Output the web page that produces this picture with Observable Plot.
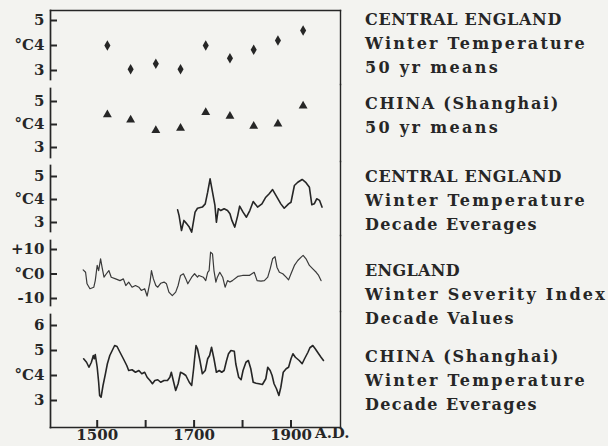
<!DOCTYPE html>
<html><head><meta charset="utf-8">
<script src="https://cdn.jsdelivr.net/npm/d3@7"></script>
<script src="https://cdn.jsdelivr.net/npm/@observablehq/plot@0.6"></script>
<style>
body{margin:0;background:#f3f3f0;}
#wrap{position:relative;width:608px;height:446px;background:#f3f3f0;overflow:hidden;color:#262626;
 font-family:"DejaVu Serif",serif;font-weight:bold;}
.p{position:absolute;left:0;}
.lab{position:absolute;left:365px;font-size:16px;line-height:24px;white-space:nowrap;}
.lab span{display:inline-block;}
</style></head><body><div id="wrap"></div>
<script>
// 50-year means (period centres)
const periodYears = [1521, 1569, 1621, 1672, 1724, 1774, 1823, 1873, 1925];
const ceMeans50 = [4.0, 3.05, 3.27, 3.05, 4.0, 3.49, 3.83, 4.2, 4.6];
const chinaMeans50 = [4.43, 4.2, 3.74, 3.84, 4.53, 4.36, 3.93, 4.03, 4.81];

// Central England winter temperature, decade averages
const ceDecYears = [1666,1669,1674,1679,1685,1690,1695,1702,1707,1717,1723,1728,1733,1738,1743,1746,1750,1755,1762,1769,1774,1778,1784,1790,1794,1801,1808,1815,1822,1831,1840,1848,1855,1862,1871,1879,1886,1895,1900,1907,1914,1923,1931,1938,1943,1948,1953,1959,1964];
const ceDecTemp = [3.55,3.30,2.65,3.09,2.94,2.80,2.58,3.45,3.62,3.67,3.81,4.32,4.90,4.32,3.74,3.01,3.60,3.52,3.60,3.52,3.38,3.09,2.80,3.30,3.71,3.45,3.23,3.52,3.91,3.67,3.81,4.10,4.25,4.43,4.10,3.81,3.62,3.81,3.88,4.61,4.75,4.87,4.73,4.53,3.77,3.81,4.03,3.96,3.67];

// England winter severity index, decade values
const engYears = [1471,1476,1479,1485,1493,1496,1500,1503,1507,1510,1514,1519,1524,1529,1538,1547,1554,1559,1565,1572,1579,1586,1591,1598,1603,1609,1612,1616,1621,1625,1631,1638,1643,1648,1655,1662,1667,1672,1678,1683,1687,1695,1701,1707,1710,1719,1724,1728,1731,1734,1738,1741,1745,1748,1753,1759,1764,1769,1774,1779,1790,1800,1814,1824,1830,1838,1845,1852,1857,1862,1867,1871,1876,1883,1890,1895,1900,1907,1914,1921,1925,1931,1938,1945,1952,1957,1962];
const engIndex = [1.7,0.7,-4.0,-6.0,-5.4,-2.7,3.5,1.4,6.2,2.8,-1.3,0.1,1.4,-1.3,-2.0,-2.7,-2.0,-4.7,-3.3,-5.4,-4.7,-5.4,-6.7,-6.0,-9.0,-3.3,1.4,-2.0,-4.7,-5.4,-3.8,-3.3,-4.0,-7.4,-8.8,-7.4,-4.7,-0.6,0.1,-2.0,-4.0,-1.3,0.1,-1.3,-0.6,-1.3,-2.7,0.7,1.4,8.9,8.2,1.4,-3.3,-1.3,0.7,-1.3,-5.4,-2.7,-3.3,-2.7,-1.0,-0.6,-0.6,0.7,-2.7,-2.9,-2.7,-1.3,2.1,6.2,7.1,2.8,0.7,0.1,-1.3,-2.4,0.1,3.5,5.5,6.9,7.6,6.2,3.5,2.1,0.7,-0.6,-2.7];

// China (Shanghai) winter temperature, decade averages
const chYears = [1472,1478,1483,1488,1492,1494,1496,1500,1503,1505,1508,1512,1517,1521,1526,1531,1536,1541,1547,1554,1561,1565,1572,1579,1586,1592,1598,1603,1609,1614,1619,1625,1631,1638,1645,1650,1653,1657,1662,1667,1672,1678,1683,1690,1695,1699,1701,1704,1707,1712,1717,1723,1728,1732,1736,1741,1746,1752,1757,1762,1767,1771,1776,1783,1786,1792,1797,1801,1807,1812,1817,1822,1828,1834,1841,1848,1852,1857,1861,1865,1870,1875,1879,1884,1890,1895,1900,1904,1909,1917,1923,1928,1935,1939,1945,1950,1957,1962,1967];
const chTemp = [4.67,4.53,4.33,4.53,4.80,4.67,4.84,4.33,3.73,3.20,3.13,3.60,4.07,4.47,4.80,5.00,5.20,5.16,4.93,4.67,4.40,4.20,4.23,4.13,4.20,4.07,4.13,3.93,3.80,3.67,3.80,3.83,3.73,3.80,3.80,3.93,4.13,3.80,3.40,3.67,4.13,4.07,4.00,3.73,3.60,4.27,4.67,5.20,5.07,4.60,4.07,4.20,4.67,4.80,5.13,4.67,4.13,4.20,4.13,4.20,4.60,4.87,5.00,4.97,4.47,3.93,3.83,4.20,4.53,4.60,4.27,3.73,3.69,3.67,3.64,3.87,4.33,4.20,4.00,3.67,3.47,3.20,3.53,4.13,4.27,4.33,4.67,4.87,4.73,4.60,4.47,4.67,4.93,5.11,5.20,5.07,4.87,4.73,4.60];

const xTicks = [1500, 1600, 1700, 1800, 1900];
const xLabels = [1500, 1700, 1900];
const panelLabels = [
  ["CENTRAL ENGLAND", "Winter Temperature", "50 yr means"],
  ["CHINA (Shanghai)", "50 yr means"],
  ["CENTRAL ENGLAND", "Winter Temperature", "Decade Everages"],
  ["ENGLAND", "Winter Severity Index", "Decade Values"],
  ["CHINA (Shanghai)", "Winter Temperature", "Decade Everages"]
];

const ink = "#262626";
const font = {fontFamily: "DejaVu Serif, serif", fontSize: "15px", fontWeight: "bold", color: ink, background: "transparent", overflow: "visible"};
const zip = (xs, ys) => xs.map((x, i) => ({x, y: ys[i]}));
const degFmt = mid => d => d === mid ? "°C" + d : String(d);
const W = 342, ML = 50, MR = 2, TICK = 7;

function panel({top, height, marginTop = 0, marginBottom = 0, yDomain, yRange, yTicks, fmt, gapTop, gapBottom, marks, extra = []}) {
  const svg = Plot.plot({
    width: W, height, marginLeft: ML, marginRight: MR, marginTop, marginBottom,
    style: font,
    x: {domain: [1500, 1900], range: [96.7, 290.5]},
    y: {domain: yDomain, range: yRange},
    marks: [
      Plot.frame({anchor: "left", insetTop: gapTop, insetBottom: gapBottom, stroke: ink, strokeWidth: 1.7}),
      Plot.frame({anchor: "right", stroke: ink, strokeWidth: 1.4}),
      // short inward tick marks at the left edge
      Plot.tickY(yTicks, {y: d => d, insetRight: W - ML - MR - TICK, stroke: ink, strokeWidth: 2}),
      // tick labels
      Plot.axisY({ticks: yTicks, tickSize: 0, tickPadding: 6, tickFormat: fmt, fill: ink, label: null}),
      Plot.axisX({ticks: [], label: null}),
      ...extra,
      ...marks
    ]
  });
  svg.classList.add("p");
  svg.style.top = top + "px";
  document.getElementById("wrap").appendChild(svg);
}

panel({top: 0, height: 84, marginTop: 10, yDomain: [3, 5], yRange: [70, 20], yTicks: [3, 4, 5], fmt: degFmt(4), gapTop: 0, gapBottom: 5,
  extra: [Plot.frame({anchor: "top", stroke: ink, strokeWidth: 1.4})],
  marks: [Plot.dot(zip(periodYears, ceMeans50), {x: "x", y: "y", symbol: "diamond", r: 3.2, fill: ink})]});

panel({top: 84, height: 77, yDomain: [3, 5], yRange: [63, 17], yTicks: [3, 4, 5], fmt: degFmt(4), gapTop: 4, gapBottom: 4,
  marks: [Plot.dot(zip(periodYears, chinaMeans50), {x: "x", y: "y", symbol: "triangle", r: 3.3, fill: ink})]});

panel({top: 161, height: 74, yDomain: [3, 5], yRange: [61, 15], yTicks: [3, 4, 5], fmt: degFmt(4), gapTop: 4, gapBottom: 4,
  marks: [Plot.line(zip(ceDecYears, ceDecTemp), {x: "x", y: "y", stroke: ink, strokeWidth: 1.6})]});

panel({top: 235, height: 76, yDomain: [-10, 10], yRange: [63, 14], yTicks: [-10, 0, 10], fmt: d => d === 0 ? "°C0" : d > 0 ? "+" + d : "-" + Math.abs(d), gapTop: 5, gapBottom: 6,
  marks: [Plot.line(zip(engYears, engIndex), {x: "x", y: "y", stroke: "#3a3a3a", strokeWidth: 1.2})]});

const P5H = 135, P5MB = 19;
panel({top: 311, height: P5H, marginBottom: P5MB, yDomain: [3, 6], yRange: [89, 14], yTicks: [3, 4, 5, 6], fmt: degFmt(4), gapTop: 3, gapBottom: 0,
  extra: [
    Plot.frame({anchor: "bottom", stroke: ink, strokeWidth: 1.7}),
    Plot.tickX(xTicks, {x: d => d, insetTop: P5H - P5MB - 7, stroke: ink, strokeWidth: 2}),
    Plot.axisX({ticks: xLabels, tickSize: 0, tickPadding: 2, fill: ink, label: null, tickFormat: d => String(d)}),
    Plot.text(["A.D."], {x: () => 1900, frameAnchor: "bottom", dy: 10, dx: 24, textAnchor: "start", fill: ink})
  ],
  marks: [Plot.line(zip(chYears, chTemp), {x: "x", y: "y", stroke: ink, strokeWidth: 1.6})]});

// right-hand labels; each line is spaced out to the width it takes in the original
const labelLeft = 365;
const labelTops = [8, 92, 165, 259, 345];
const lineEnds = [[562, 587, 500], [560, 500], [562, 587, 538], [460, 607, 515], [560, 587, 538]];
panelLabels.forEach((lines, i) => {
  const div = document.createElement("div");
  div.className = "lab";
  div.style.top = labelTops[i] + "px";
  document.getElementById("wrap").appendChild(div);
  lines.forEach((s, j) => {
    const row = document.createElement("div");
    const span = document.createElement("span");
    span.textContent = s;
    row.appendChild(span);
    div.appendChild(row);
    const w = span.getBoundingClientRect().width;
    const ls = (lineEnds[i][j] - labelLeft - w) / s.length;
    span.style.letterSpacing = ls.toFixed(2) + "px";
  });
});
</script></body></html>
